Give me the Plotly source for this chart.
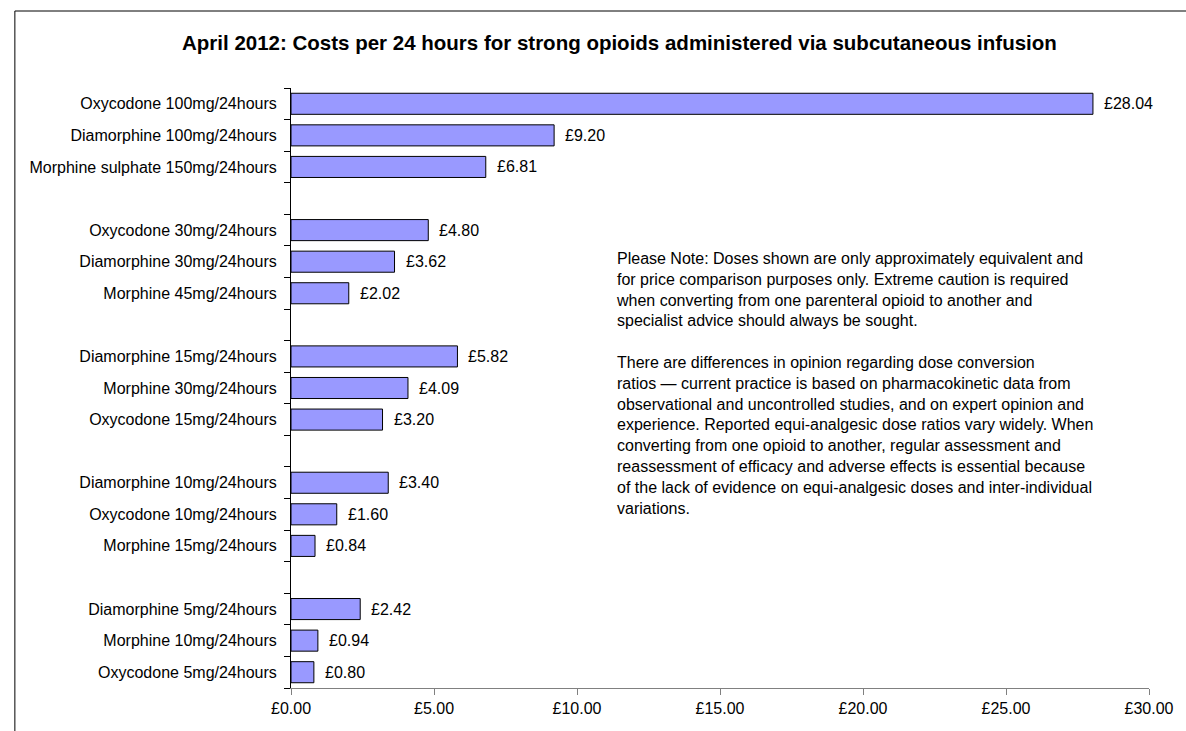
import plotly.graph_objects as go

# ---- data (top to bottom), None = blank spacer slot ----
labels = [
    "Oxycodone 100mg/24hours", "Diamorphine 100mg/24hours", "Morphine sulphate 150mg/24hours", None,
    "Oxycodone 30mg/24hours", "Diamorphine 30mg/24hours", "Morphine 45mg/24hours", None,
    "Diamorphine 15mg/24hours", "Morphine 30mg/24hours", "Oxycodone 15mg/24hours", None,
    "Diamorphine 10mg/24hours", "Oxycodone 10mg/24hours", "Morphine 15mg/24hours", None,
    "Diamorphine 5mg/24hours", "Morphine 10mg/24hours", "Oxycodone 5mg/24hours",
]
values = [
    28.04, 9.20, 6.81, None,
    4.80, 3.62, 2.02, None,
    5.82, 4.09, 3.20, None,
    3.40, 1.60, 0.84, None,
    2.42, 0.94, 0.80,
]
x_ticks = [0, 5, 10, 15, 20, 25, 30]
x_tick_text = ["£0.00", "£5.00", "£10.00", "£15.00", "£20.00", "£25.00", "£30.00"]

title_text = "April 2012: Costs per 24 hours for strong opioids administered via subcutaneous infusion"
note_text = (
    "Please Note: Doses shown are only approximately equivalent and<br>"
    "for price comparison purposes only. Extreme caution is required<br>"
    "when converting from one parenteral opioid to another and<br>"
    "specialist advice should always be sought.<br>"
    "<br>"
    "There are differences in opinion regarding dose conversion<br>"
    "ratios \u2014 current practice is based on pharmacokinetic data from<br>"
    "observational and uncontrolled studies, and on expert opinion and<br>"
    "experience. Reported equi-analgesic dose ratios vary widely. When<br>"
    "converting from one opioid to another, regular assessment and<br>"
    "reassessment of efficacy and adverse effects is essential because<br>"
    "of the lack of evidence on equi-analgesic doses and inter-individual<br>"
    "variations."
)

# unique category names (blank slots get distinct whitespace names)
cats = []
blank = 0
for lab in labels:
    if lab is None:
        blank += 1
        cats.append(" " * blank)
    else:
        cats.append(lab)

bx = [v for v in values if v is not None]
by = [c for c, v in zip(cats, values) if v is not None]

FONT = "Liberation Sans, Arial, sans-serif"
FS = 16
W, H = 1186, 731
ML, MR, MT, MB = 291, 25, 88, 43
PW, PH = W - ML - MR, H - MT - MB

fig = go.Figure()
fig.add_trace(go.Bar(
    x=bx, y=by, orientation="h",
    marker=dict(color="#9999FF", line=dict(color="#000000", width=1)),
    width=0.667,
    hoverinfo="x+y",
))

annotations = []
for xv, yv in zip(bx, by):
    annotations.append(dict(
        x=xv, y=yv, xref="x", yref="y", text=f"£{xv:.2f}",
        showarrow=False, xanchor="left", yanchor="middle", xshift=9,
        font=dict(family=FONT, size=FS, color="#000"),
    ))

annotations.append(dict(
    x=(619 - ML) / PW, y=(H - MB - 248) / PH, xref="paper", yref="paper",
    text=note_text, showarrow=False, xanchor="left", yanchor="top", align="left",
    font=dict(family=FONT, size=FS, color="#000"),
))

fig.update_layout(
    width=W, height=H,
    autosize=False,
    margin=dict(l=ML, r=MR, t=MT, b=MB),
    paper_bgcolor="white", plot_bgcolor="white",
    showlegend=False,
    font=dict(family=FONT, size=FS, color="#000"),
    title=dict(
        text=f"<b>{title_text}</b>", x=(624 - ML) / PW, xref="paper", xanchor="center",
        y=1 - 43 / H, yanchor="middle", font=dict(family=FONT, size=20.5, color="#000"),
    ),
    annotations=annotations,
    shapes=[
        dict(type="rect", xref="paper", yref="paper",
             x0=(11 - ML) / PW, x1=(W + 40 - ML) / PW, y0=-(MB + 40) / PH, y1=(H - MB - 11) / PH,
             line=dict(color="#000", width=1), fillcolor="rgba(0,0,0,0)", layer="below"),
    ],
    xaxis=dict(
        range=[0, 30], tickvals=x_ticks, ticktext=x_tick_text,
        showgrid=False, zeroline=False, showline=True, linecolor="#808080", linewidth=1,
        ticks="outside", ticklen=6, tickcolor="#808080",
        tickfont=dict(family=FONT, size=FS, color="#000"),
    ),
    yaxis=dict(
        type="category", categoryorder="array", categoryarray=cats,
        range=[len(cats) - 0.5, -0.5],
        tickmode="array", tickvals=cats, ticktext=[l if l else "" for l in labels],
        tickson="boundaries", ticks="outside", ticklen=6, tickcolor="#000",
        showline=True, linecolor="#000", linewidth=1, showgrid=False, zeroline=False,
        tickfont=dict(family=FONT, size=FS, color="#000"),
        ticklabelstandoff=10,
    ),
)

fig.write_html(
    "out.html",
    config={"responsive": False, "displayModeBar": False},
    post_script=(
        "document.body.style.margin='0';document.body.style.overflow='hidden';"
        "document.documentElement.style.overflow='hidden';"
    ),
)
